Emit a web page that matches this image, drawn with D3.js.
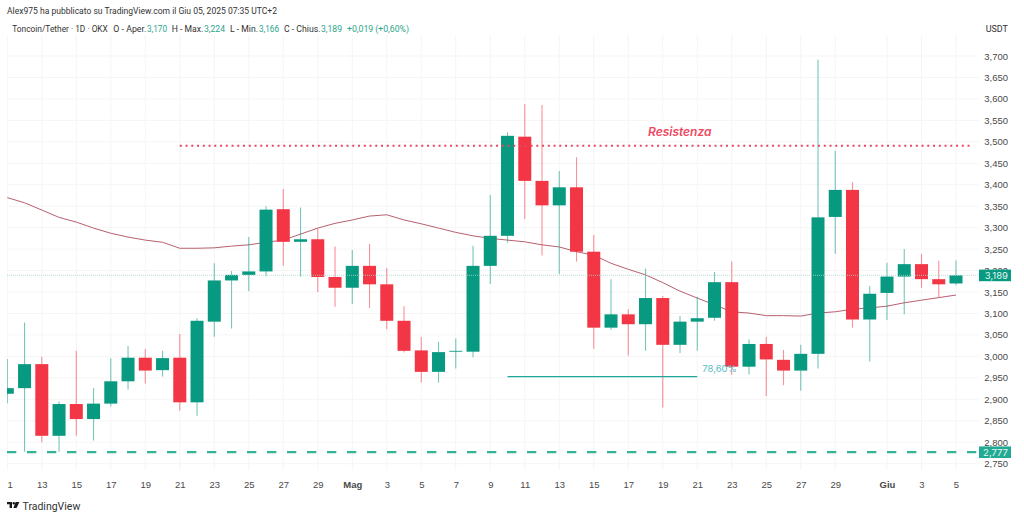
<!DOCTYPE html>
<html>
<head>
<meta charset="utf-8">
<script src="https://cdn.jsdelivr.net/npm/d3@7/dist/d3.min.js"></script>
<style>
  html, body { margin: 0; padding: 0; background: #fff; }
  svg { display: block; font-family: Inter, "Liberation Sans", sans-serif; }
</style>
</head>
<body>
<div id="chart"></div>
<script>
// daily candles, 11 Apr - 5 Jun 2025
const days = ["2025-04-11","2025-04-12","2025-04-13","2025-04-14","2025-04-15","2025-04-16","2025-04-17","2025-04-18","2025-04-19","2025-04-20",
  "2025-04-21","2025-04-22","2025-04-23","2025-04-24","2025-04-25","2025-04-26","2025-04-27","2025-04-28","2025-04-29","2025-04-30",
  "2025-05-01","2025-05-02","2025-05-03","2025-05-04","2025-05-05","2025-05-06","2025-05-07","2025-05-08","2025-05-09","2025-05-10",
  "2025-05-11","2025-05-12","2025-05-13","2025-05-14","2025-05-15","2025-05-16","2025-05-17","2025-05-18","2025-05-19","2025-05-20",
  "2025-05-21","2025-05-22","2025-05-23","2025-05-24","2025-05-25","2025-05-26","2025-05-27","2025-05-28","2025-05-29","2025-05-30",
  "2025-05-31","2025-06-01","2025-06-02","2025-06-03","2025-06-04","2025-06-05"];
const opens = [2913,2926,2982,2815,2889,2854,2890,2942,2997,2968,2997,2893,3081,3177,3190,3198,3343,3267,3273,3185,
  3160,3211,3168,3083,3014,2964,3011,3011,3211,3281,3512,3409,3352,3394,3244,3067,3098,3075,3136,3027,
  3081,3090,3173,2976,3029,2992,2967,3006,3325,3388,3086,3148,3186,3215,3180,3170];
const highs = [2994,3079,2999,2895,3013,2926,2996,3024,3017,3013,3052,3089,3217,3199,3278,3350,3390,3347,3298,3256,
  3248,3262,3206,3117,3045,3034,3042,3258,3376,3522,3588,3586,3432,3464,3283,3180,3110,3205,3141,3094,
  3139,3197,3221,3040,3045,3015,3027,3691,3479,3406,3164,3218,3250,3239,3223,3224];
const lows = [2891,2778,2800,2778,2815,2804,2883,2923,2937,2953,2874,2862,3046,3065,3152,3187,3211,3186,3150,3116,
  3122,3113,3063,3009,2939,2939,2972,2998,3169,3265,3320,3235,3192,3221,3018,3062,3002,3013,2881,3008,
  3013,3083,2957,2958,2908,2933,2920,2972,3239,3067,2988,3085,3098,3160,3137,3166];
const closes = [2926,2982,2815,2889,2854,2890,2942,2997,2967,2996,2893,3083,3177,3190,3198,3342,3267,3273,3185,3160,
  3211,3168,3083,3013,2964,3010,3013,3211,3281,3514,3409,3352,3394,3244,3067,3098,3075,3136,3027,3081,
  3089,3173,2976,3029,2993,2967,3006,3324,3388,3086,3146,3186,3215,3180,3168,3189];
const maValues = [3370,3358,3341,3324,3313,3299,3287,3278,3271,3266,3252,3252,3253,3257,3260,3266,3271,3285,3299,3310,
  3318,3327,3330,3318,3309,3299,3289,3281,3275,3271,3267,3260,3255,3244,3236,3217,3203,3190,3172,3152,
  3136,3120,3104,3101,3095,3095,3094,3101,3104,3110,3113,3117,3125,3131,3137,3143];

const priceTicks = [2750,2800,2850,2900,2950,3000,3050,3100,3150,3200,3250,3300,3350,3400,3450,3500,3550,3600,3650,3700];
const dateTicks = ["2025-04-11","2025-04-13","2025-04-15","2025-04-17","2025-04-19","2025-04-21","2025-04-23","2025-04-25","2025-04-27","2025-04-29",
  "2025-05-01","2025-05-03","2025-05-05","2025-05-07","2025-05-09","2025-05-11","2025-05-13","2025-05-15","2025-05-17","2025-05-19",
  "2025-05-21","2025-05-23","2025-05-25","2025-05-27","2025-05-29","2025-06-01","2025-06-03","2025-06-05"];
const dateLabels = ["1","13","15","17","19","21","23","25","27","29","Mag","3","5","7","9","11","13","15","17","19","21","23","25","27","29","Giu","3","5"];

const lastPrice = 3189;
const supportPrice = 2777;
const resistance = { price: 3491, from: "2025-04-21", to: "2025-06-06", label: "Resistenza", labelDay: "2025-05-19" };
const fib = { price: 2953, from: "2025-05-10", to: "2025-05-21", label: "78,60%" };

const UP = "#089981", DOWN = "#f23645";
const width = 1024, height = 517;
const plotLeft = 7, plotRight = 979, plotTop = 35, plotBottom = 470;

const parse = d3.utcParse("%Y-%m-%d");
const candles = days.map((d, i) => ({ date: parse(d), o: opens[i], h: highs[i], l: lows[i], c: closes[i], ma: maValues[i] }));

const x = d3.scaleUtc().domain([parse(days[0]), parse(days[days.length - 1])]).range([7.3, 956]);
const y = d3.scaleLinear().domain([2750, 3700]).range([463.7, 56]);
const bodyWidth = 13;

const svg = d3.select("#chart").append("svg").attr("width", width).attr("height", height);

svg.append("clipPath").attr("id", "plot").append("rect")
  .attr("x", plotLeft).attr("y", plotTop).attr("width", plotRight - plotLeft).attr("height", plotBottom - plotTop);

// grid
const grid = svg.append("g").attr("clip-path", "url(#plot)");
grid.selectAll(".v").data(dateTicks).join("line")
  .attr("x1", d => x(parse(d))).attr("x2", d => x(parse(d)))
  .attr("y1", plotTop).attr("y2", plotBottom)
  .attr("stroke", "#f5f5f5");
grid.selectAll(".h").data(priceTicks).join("line")
  .attr("x1", plotLeft).attr("x2", plotRight)
  .attr("y1", d => y(d)).attr("y2", d => y(d))
  .attr("stroke", "#f5f5f5");

// axes
const yAxis = d3.axisRight(y).tickValues(priceTicks).tickSize(0).tickPadding(0).tickFormat(d3.format(",.0f"));
const yG = svg.append("g").attr("transform", "translate(1008,0)").call(yAxis);
yG.select(".domain").remove();
yG.selectAll("text").attr("text-anchor", "end").attr("fill", "#4a4a4a").style("font-size", "9.5px");

const xAxis = d3.axisBottom(x).tickValues(dateTicks.map(parse)).tickSize(0).tickPadding(0)
  .tickFormat((d, i) => dateLabels[i]);
const xG = svg.append("g").attr("transform", "translate(0,481)").call(xAxis);
xG.select(".domain").remove();
xG.selectAll("text").attr("fill", "#4a4a4a").style("font-size", "9.5px")
  .attr("dx", (d, i) => i === 0 ? 2.4 : 0)
  .attr("font-weight", (d, i) => isNaN(+dateLabels[i]) ? 700 : 400);

const plot = svg.append("g").attr("clip-path", "url(#plot)");

// last price line
svg.append("line")
  .attr("x1", plotLeft).attr("x2", plotRight)
  .attr("y1", y(lastPrice)).attr("y2", y(lastPrice))
  .attr("stroke", "#a9d6cd").attr("stroke-width", 0.8).attr("stroke-dasharray", "1 1");

// moving average sits behind the candles
plot.append("path")
  .attr("d", d3.line().x(d => x(d.date)).y(d => y(d.ma))(candles))
  .attr("fill", "none").attr("stroke", "#b8606e").attr("stroke-width", 1);

// candles
const candle = plot.selectAll(".candle").data(candles).join("g").attr("class", "candle");
candle.append("line")
  .attr("x1", d => x(d.date)).attr("x2", d => x(d.date))
  .attr("y1", d => y(d.h)).attr("y2", d => y(d.l))
  .attr("stroke", d => d.c >= d.o ? UP : DOWN).attr("stroke-opacity", 0.55).attr("stroke-width", 1.1);
candle.append("rect")
  .attr("x", d => x(d.date) - bodyWidth / 2)
  .attr("width", bodyWidth)
  .attr("y", d => y(Math.max(d.o, d.c)))
  .attr("height", d => Math.max(0.8, Math.abs(y(d.o) - y(d.c))))
  .attr("fill", d => d.c >= d.o ? UP : DOWN);

// drawings
svg.append("line")
  .attr("x1", x(parse(resistance.from))).attr("x2", x(parse(resistance.to)))
  .attr("y1", y(resistance.price)).attr("y2", y(resistance.price))
  .attr("stroke", "#e8455f").attr("stroke-width", 2).attr("stroke-dasharray", "2 3.75");
svg.append("text")
  .attr("x", x(parse(resistance.labelDay)) + 17).attr("y", y(resistance.price) - 9.5)
  .attr("text-anchor", "middle").attr("fill", "#ee4a62")
  .attr("font-size", 12).attr("font-weight", 600).attr("font-style", "italic")
  .text(resistance.label);

svg.append("line")
  .attr("x1", x(parse(fib.from))).attr("x2", x(parse(fib.to)))
  .attr("y1", y(fib.price)).attr("y2", y(fib.price))
  .attr("stroke", "#1fa898").attr("stroke-width", 1.2);
svg.append("text")
  .attr("x", x(parse(fib.to)) + 5).attr("y", y(fib.price) - 5)
  .attr("fill", "#57bcc4").attr("font-size", 9.5)
  .text(fib.label);

svg.append("line")
  .attr("x1", plotLeft).attr("x2", plotRight)
  .attr("y1", y(supportPrice)).attr("y2", y(supportPrice))
  .attr("stroke", "#35b395").attr("stroke-width", 2.2).attr("stroke-dasharray", "9.3 10.7");

// price labels on the axis
[[lastPrice, UP], [supportPrice, "#22ab94"]].forEach(([p, col]) => {
  svg.append("rect").attr("x", 979).attr("y", y(p) - 5.7).attr("width", 32).attr("height", 11.6).attr("fill", col);
  svg.append("text").attr("x", 1008).attr("y", y(p) + 3.4).attr("text-anchor", "end")
    .attr("fill", "#e6f5f1").attr("font-size", 9.5).text(d3.format(",.0f")(p));
});

// header
const headerFont = "Roboto, 'Liberation Sans', sans-serif";
svg.append("text").attr("x", 7).attr("y", 13.5).attr("font-family", headerFont).attr("font-size", 8.8)
  .attr("textLength", 270).attr("lengthAdjust", "spacingAndGlyphs")
  .attr("fill", "#333").text("Alex975 ha pubblicato su TradingView.com il Giu 05, 2025 07:35 UTC+2");
const legend = [
  [12.3, "Toncoin/Tether · 1D · OKX", "#333", 95.5], [113.3, "O - Aper.", "#333", 33], [147, "3,170", "#2aa58c", 20],
  [171.7, "H - Max.", "#333", 31.5], [204, "3,224", "#2aa58c", 21], [230, "L - Min.", "#333", 28], [259, "3,166", "#2aa58c", 20],
  [284, "C - Chius.", "#333", 36.5], [321, "3,189", "#2aa58c", 21], [347, "+0,019 (+0,60%)", "#2aa58c", 62]
];
svg.append("g").selectAll("text").data(legend).join("text")
  .attr("x", d => d[0]).attr("y", 31.5).attr("font-family", headerFont).attr("font-size", 8.8)
  .attr("textLength", d => d[3]).attr("lengthAdjust", "spacingAndGlyphs")
  .attr("fill", d => d[2]).text(d => d[1]);
svg.append("text").attr("x", 1008).attr("y", 32).attr("text-anchor", "end").attr("font-family", headerFont).attr("font-size", 9).attr("fill", "#333").text("USDT");

// TradingView mark
const logo = svg.append("g").attr("transform", "translate(7,502)").attr("fill", "#1a1a1a");
logo.append("path").attr("d", "M0 0H5V6H2.6V2.3H0Z");
logo.append("circle").attr("cx", 6.8).attr("cy", 1.2).attr("r", 1.2);
logo.append("path").attr("d", "M8.6 0H12.4L9.6 6H6.4Z");
svg.append("text").attr("x", 22.5).attr("y", 509.5).attr("font-family", headerFont).attr("font-size", 10.5).attr("fill", "#333").text("TradingView");
</script>
</body>
</html>
